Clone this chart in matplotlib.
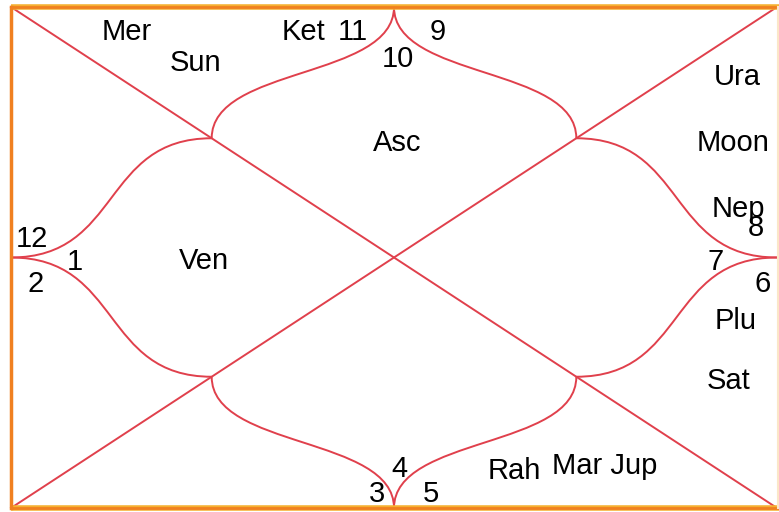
import matplotlib.pyplot as plt
from matplotlib.path import Path
from matplotlib.patches import PathPatch

plt.rcParams['font.family'] = ['Liberation Sans', 'DejaVu Sans']

# chart frame (pixel space)
left, top, right, bottom = 11, 7, 777, 508

# labels: text, x, y
labels = ["Mer", "Sun", "Ket", "11", "9", "10", "Asc", "Ura", "Moon", "Nep", "8",
          "12", "1", "2", "Ven", "7", "6", "Plu", "Sat", "4", "3", "5", "Rah", "Mar Jup"]
label_x = [127, 196, 304, 353, 438, 398, 397, 737, 733, 738, 756,
           32, 75, 36, 204, 716, 763, 736, 729, 399, 377, 431, 514, 605]
label_y = [32, 63, 32, 32, 32, 59, 143, 77, 143, 209, 228,
           239, 262, 284, 261, 262, 284, 321, 381, 469, 494, 494, 471, 466]

fig = plt.figure(figsize=(7.79, 5.12), dpi=100)
ax = fig.add_axes([0, 0, 1, 1])
ax.set_xlim(0, 779)
ax.set_ylim(512, 0)
ax.axis('off')

red = '#e0404c'
cx, cy = (left + right) / 2, (top + bottom) / 2
f = 0.262  # where the cusp curves meet the diagonals
qx1, qx2 = left + f * (right - left), right - f * (right - left)
qy1, qy2 = top + f * (bottom - top), bottom - f * (bottom - top)

# diagonals
ax.plot([left, right], [top, bottom], color=red, lw=1.4)
ax.plot([left, right], [bottom, top], color=red, lw=1.4)

def curve(p0, p3, vert_first):
    k = 0.55
    if vert_first:
        p1 = (p0[0], p0[1] + k * (p3[1] - p0[1]))
        p2 = (p3[0], p3[1] - k * (p3[1] - p0[1]))
    else:
        p1 = (p0[0] + k * (p3[0] - p0[0]), p0[1])
        p2 = (p3[0] - k * (p3[0] - p0[0]), p3[1])
    path = Path([p0, p1, p2, p3], [Path.MOVETO, Path.CURVE4, Path.CURVE4, Path.CURVE4])
    ax.add_patch(PathPatch(path, fill=False, edgecolor=red, lw=1.4))

# top and bottom cusps
for ex in (qx1, qx2):
    curve((cx, top), (ex, qy1), True)
    curve((cx, bottom), (ex, qy2), True)
# left and right cusps
for ey in (qy1, qy2):
    curve((left, cy), (qx1, ey), False)
    curve((right, cy), (qx2, ey), False)

# frame
ax.plot([left, 779], [top, top], color='#f5b030', lw=4, solid_capstyle='butt')
ax.plot([left, 779], [top, top], color='#f08020', lw=2, solid_capstyle='butt')
ax.plot([left, 779], [bottom, bottom], color='#f5b030', lw=4, solid_capstyle='butt')
ax.plot([left, 779], [bottom, bottom], color='#f08020', lw=2, solid_capstyle='butt')
ax.plot([left, left], [top, bottom], color='#f08020', lw=2.5)
ax.plot([778, 778], [top, bottom], color='#fbe6c8', lw=1.5)

for t, x, y in zip(labels, label_x, label_y):
    ax.text(x, y, t, fontsize=21, ha='center', va='center', color='black')

fig.savefig("out.png", dpi=100)
